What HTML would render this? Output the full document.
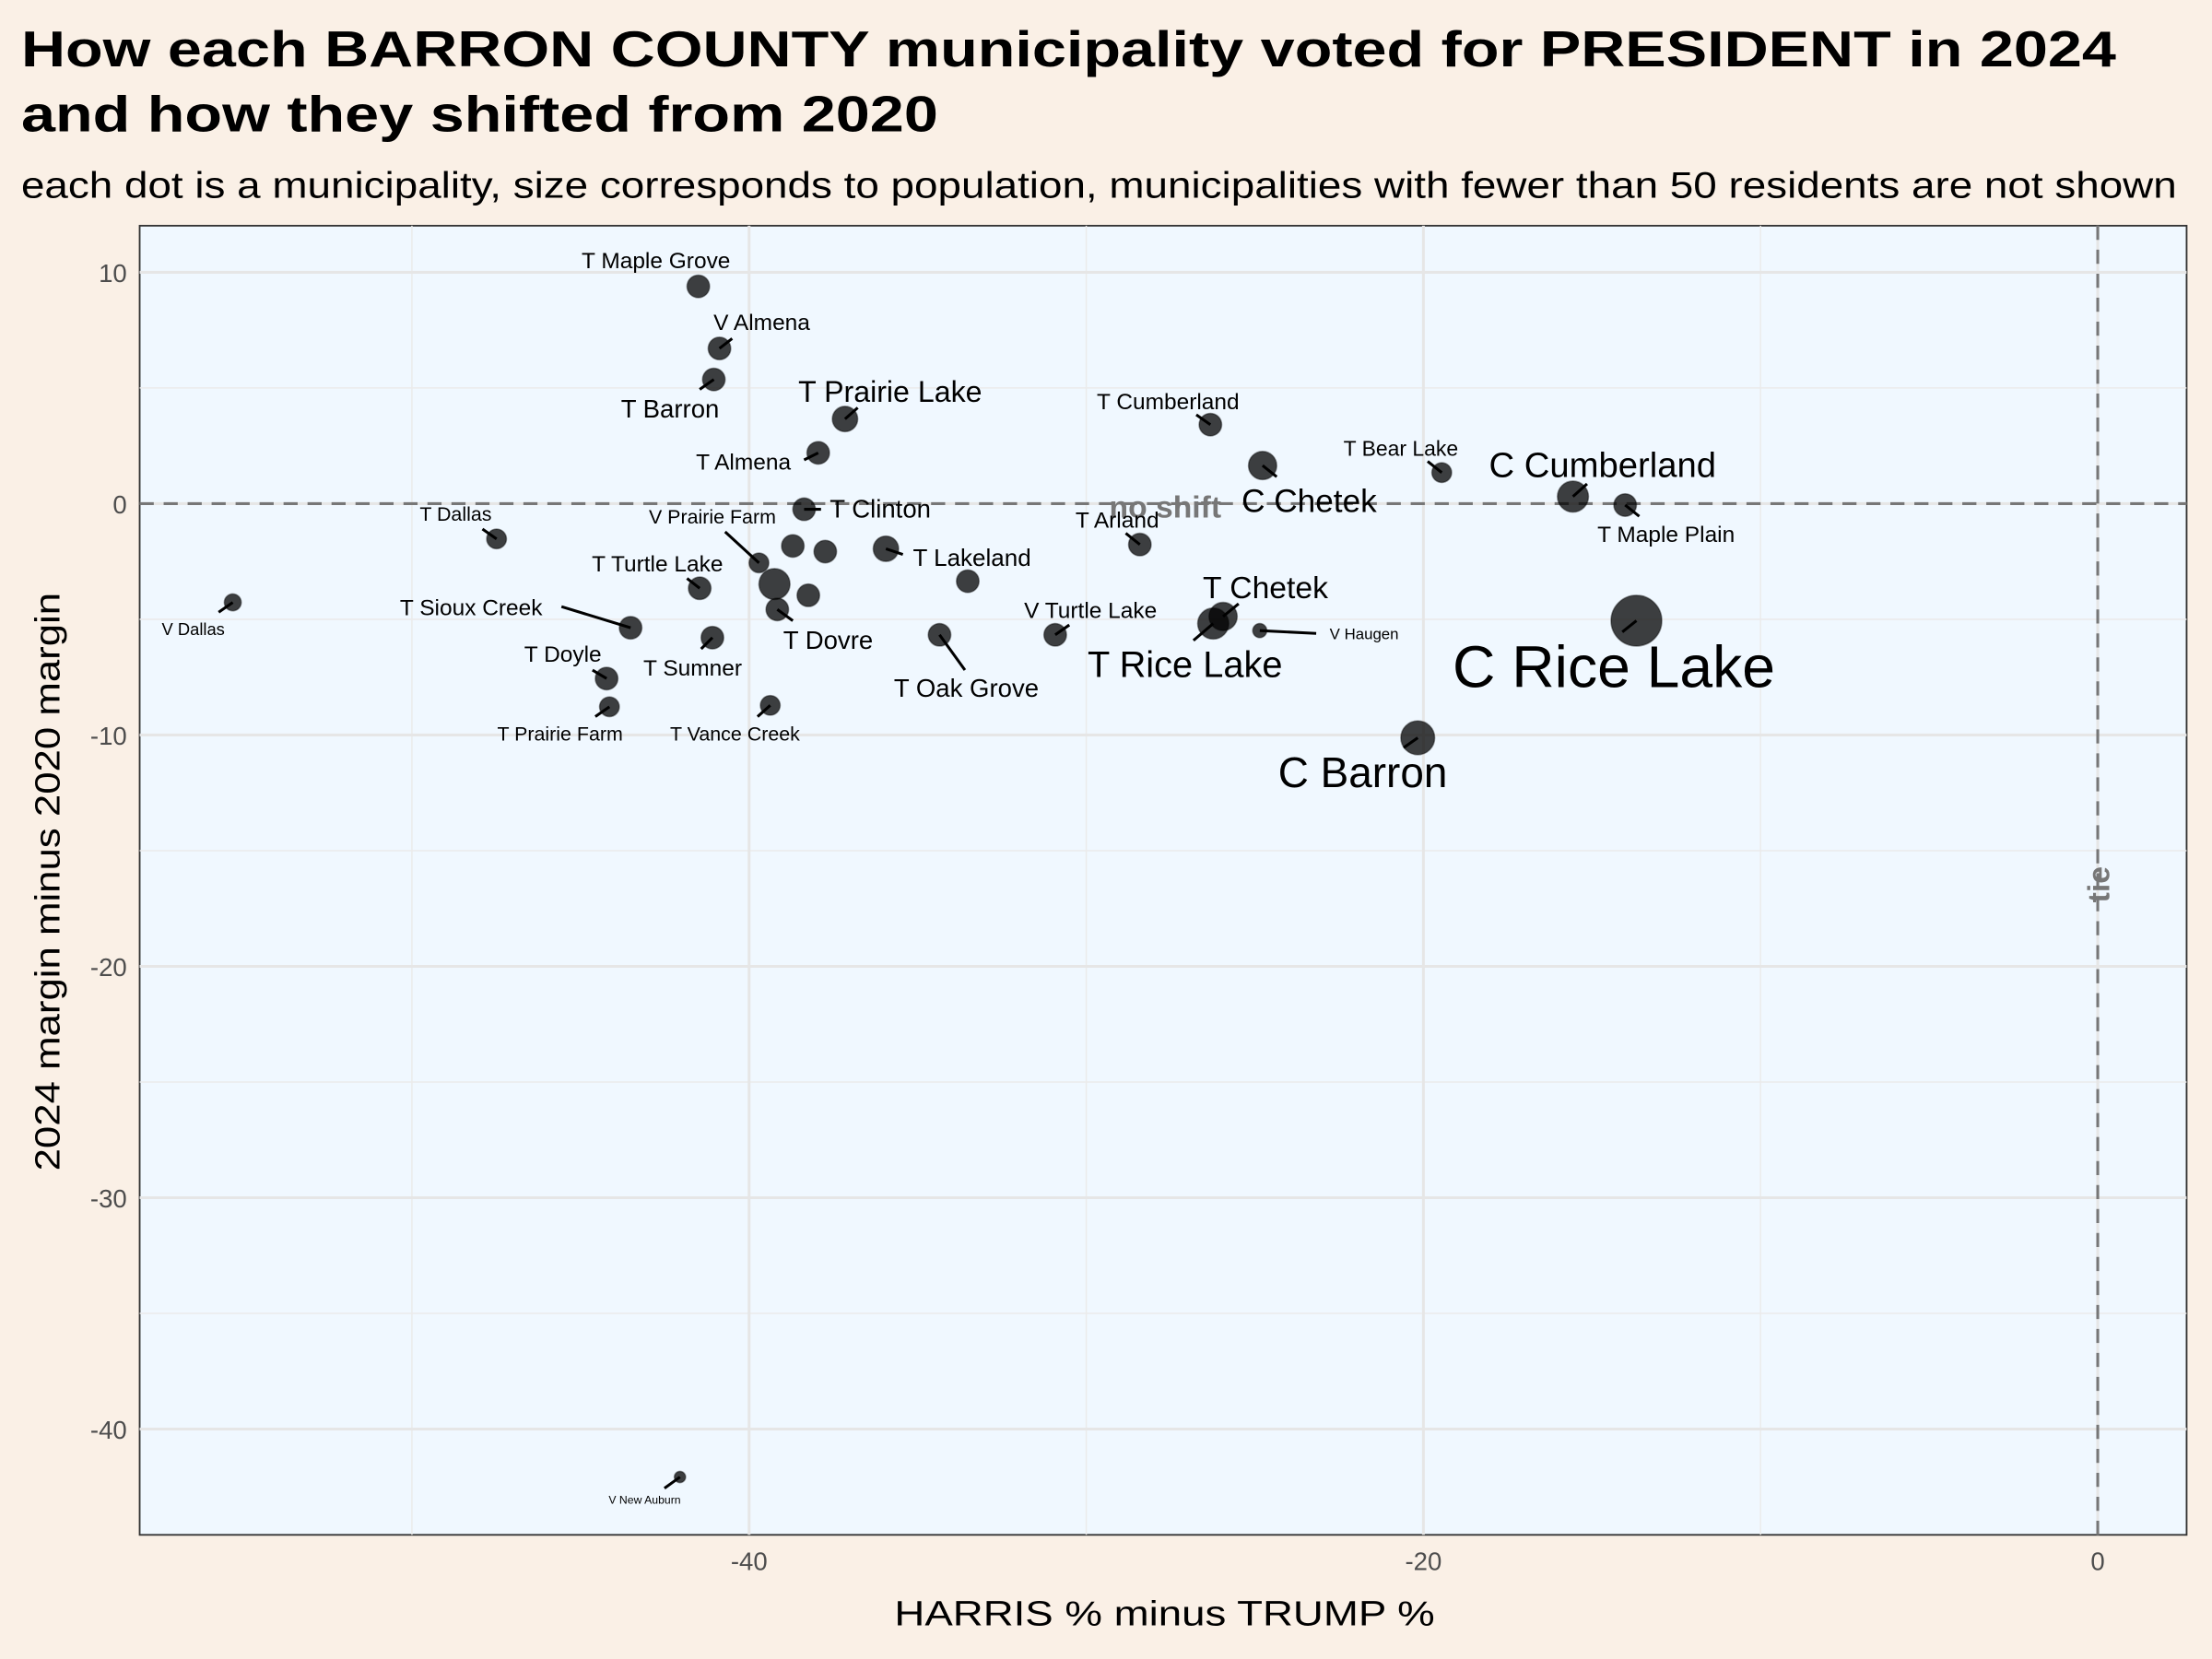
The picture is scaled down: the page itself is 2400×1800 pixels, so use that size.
<!DOCTYPE html>
<html><head><meta charset="utf-8"><style>
html,body{margin:0;padding:0;background:#faf0e6;}
svg{display:block;}
text{font-family:"Liberation Sans",sans-serif;}
</style></head><body>
<svg width="2400" height="1800" viewBox="0 0 1568 1176" xmlns="http://www.w3.org/2000/svg">
<rect width="1568" height="1176" fill="#faf0e6"/>
<text x="15" y="47" font-size="36" font-weight="bold" fill="#000" textLength="1485" lengthAdjust="spacingAndGlyphs">How each BARRON COUNTY municipality voted for PRESIDENT in 2024</text>
<text x="15" y="93" font-size="36" font-weight="bold" fill="#000" textLength="650" lengthAdjust="spacingAndGlyphs">and how they shifted from 2020</text>
<text x="15" y="140" font-size="26" fill="#000" textLength="1528" lengthAdjust="spacingAndGlyphs">each dot is a municipality, size corresponds to population, municipalities with fewer than 50 residents are not shown</text>
<rect x="99" y="160" width="1451" height="928" fill="#f0f8ff" stroke="#333" stroke-width="1.2"/>
<g stroke="#ebebeb" stroke-width="1">
<line x1="99" x2="1550" y1="275" y2="275"/><line x1="99" x2="1550" y1="439" y2="439"/><line x1="99" x2="1550" y1="603" y2="603"/><line x1="99" x2="1550" y1="767" y2="767"/><line x1="99" x2="1550" y1="931" y2="931"/>
<line y1="160" y2="1088" x1="292" x2="292"/><line y1="160" y2="1088" x1="770" x2="770"/><line y1="160" y2="1088" x1="1248" x2="1248"/>
</g>
<g stroke="#e6e6e6" stroke-width="2">
<line x1="99" x2="1550" y1="193" y2="193"/><line x1="99" x2="1550" y1="357" y2="357"/><line x1="99" x2="1550" y1="521" y2="521"/><line x1="99" x2="1550" y1="685" y2="685"/><line x1="99" x2="1550" y1="849" y2="849"/><line x1="99" x2="1550" y1="1013" y2="1013"/>
<line y1="160" y2="1088" x1="531" x2="531"/><line y1="160" y2="1088" x1="1009" x2="1009"/><line y1="160" y2="1088" x1="1487" x2="1487"/>
</g>
<line x1="99" x2="1550" y1="357" y2="357" stroke="#777" stroke-width="2" stroke-dasharray="10,7"/>
<line x1="1487" x2="1487" y1="160" y2="1088" stroke="#777" stroke-width="2" stroke-dasharray="10,7"/>
<text x="826" y="367" font-size="22" font-weight="bold" fill="#777" text-anchor="middle">no shift</text>
<text transform="translate(1495,627) rotate(-90)" font-size="22" font-weight="bold" fill="#777" text-anchor="middle">tie</text>
<g fill="#4d4d4d" font-size="18" text-anchor="end">
<text x="90" y="200">10</text><text x="90" y="364">0</text><text x="90" y="528">-10</text><text x="90" y="692">-20</text><text x="90" y="856">-30</text><text x="90" y="1020">-40</text>
</g>
<g fill="#4d4d4d" font-size="18" text-anchor="middle">
<text x="531" y="1113">-40</text><text x="1009" y="1113">-20</text><text x="1487" y="1113">0</text>
</g>
<text x="634" y="1152" font-size="25" textLength="383" lengthAdjust="spacingAndGlyphs">HARRIS % minus TRUMP %</text>
<text transform="translate(42,830) rotate(-90)" font-size="25" textLength="410" lengthAdjust="spacingAndGlyphs">2024 margin minus 2020 margin</text>
<g stroke="#000" stroke-width="2">
<line x1="510" y1="247" x2="519" y2="240"/><line x1="506" y1="269" x2="496" y2="276"/><line x1="599" y1="297" x2="608" y2="289"/><line x1="580" y1="321" x2="570" y2="326"/>
<line x1="352" y1="382" x2="342" y2="375"/><line x1="165" y1="427" x2="155" y2="434"/><line x1="538" y1="399" x2="514" y2="377"/>
<line x1="496" y1="417" x2="487" y2="410"/><line x1="447" y1="445" x2="398" y2="430"/><line x1="505" y1="452" x2="497" y2="460"/>
<line x1="666" y1="450" x2="684" y2="475"/><line x1="430" y1="481" x2="420" y2="475"/><line x1="432" y1="501" x2="422" y2="508"/><line x1="546" y1="500" x2="537" y2="508"/>
<line x1="748" y1="450" x2="758" y2="443"/><line x1="858" y1="301" x2="848" y2="294"/><line x1="808" y1="386" x2="798" y2="378"/><line x1="895" y1="330" x2="905" y2="338"/>
<line x1="867" y1="437" x2="878" y2="428"/><line x1="860" y1="442" x2="846" y2="454"/><line x1="893" y1="447" x2="933" y2="449"/><line x1="1022" y1="335" x2="1012" y2="327"/>
<line x1="1115" y1="352" x2="1125" y2="343"/><line x1="1152" y1="358" x2="1162" y2="366"/><line x1="1160" y1="440" x2="1150" y2="448"/><line x1="1005" y1="523" x2="995" y2="530"/>
<line x1="482" y1="1047" x2="471" y2="1055"/><line x1="551" y1="432" x2="562" y2="440"/><line x1="628" y1="389" x2="640" y2="393"/><line x1="570" y1="361" x2="582" y2="361"/>
</g>
<g fill="#000" fill-opacity="0.75" stroke="#000" stroke-opacity="0.4">
<circle cx="495" cy="203" r="8"/><circle cx="510" cy="247" r="8"/><circle cx="506" cy="269" r="8"/><circle cx="599" cy="297" r="9"/><circle cx="580" cy="321" r="8"/>
<circle cx="570" cy="361" r="8"/><circle cx="352" cy="382" r="7"/><circle cx="165" cy="427" r="6"/><circle cx="538" cy="399" r="7"/>
<circle cx="562" cy="387" r="8"/><circle cx="585" cy="391" r="8"/><circle cx="549" cy="414" r="11"/><circle cx="573" cy="422" r="8"/><circle cx="551" cy="432" r="8"/>
<circle cx="628" cy="389" r="9"/><circle cx="686" cy="412" r="8"/><circle cx="496" cy="417" r="8"/><circle cx="447" cy="445" r="8"/><circle cx="505" cy="452" r="8"/><circle cx="666" cy="450" r="8"/>
<circle cx="430" cy="481" r="8"/><circle cx="432" cy="501" r="7"/><circle cx="546" cy="500" r="7"/><circle cx="748" cy="450" r="8"/>
<circle cx="858" cy="301" r="8"/><circle cx="808" cy="386" r="8"/><circle cx="895" cy="330" r="10"/><circle cx="867" cy="437" r="10"/><circle cx="860" cy="442" r="11"/>
<circle cx="893" cy="447" r="5"/><circle cx="1022" cy="335" r="7"/><circle cx="1115" cy="352" r="11"/><circle cx="1152" cy="358" r="8"/>
<circle cx="1160" cy="440" r="18"/><circle cx="1005" cy="523" r="12"/><circle cx="482" cy="1047" r="4"/>
</g>
<g fill="#000">
<text x="465" y="190" font-size="16" text-anchor="middle">T Maple Grove</text>
<text x="540" y="234" font-size="16" text-anchor="middle">V Almena</text>
<text x="475" y="296" font-size="18" text-anchor="middle">T Barron</text>
<text x="631" y="285" font-size="21" text-anchor="middle">T Prairie Lake</text>
<text x="527" y="333" font-size="16" text-anchor="middle">T Almena</text>
<text x="624" y="367" font-size="18" text-anchor="middle">T Clinton</text>
<text x="323" y="369" font-size="14" text-anchor="middle">T Dallas</text>
<text x="137" y="450" font-size="12" text-anchor="middle">V Dallas</text>
<text x="505" y="371" font-size="14" text-anchor="middle">V Prairie Farm</text>
<text x="466" y="405" font-size="16" text-anchor="middle">T Turtle Lake</text>
<text x="334" y="436" font-size="16" text-anchor="middle">T Sioux Creek</text>
<text x="491" y="479" font-size="16" text-anchor="middle">T Sumner</text>
<text x="587" y="460" font-size="18" text-anchor="middle">T Dovre</text>
<text x="689" y="401" font-size="17" text-anchor="middle">T Lakeland</text>
<text x="685" y="494" font-size="18" text-anchor="middle">T Oak Grove</text>
<text x="399" y="469" font-size="16" text-anchor="middle">T Doyle</text>
<text x="397" y="525" font-size="14" text-anchor="middle">T Prairie Farm</text>
<text x="521" y="525" font-size="14" text-anchor="middle">T Vance Creek</text>
<text x="773" y="438" font-size="16" text-anchor="middle">V Turtle Lake</text>
<text x="828" y="290" font-size="16" text-anchor="middle">T Cumberland</text>
<text x="792" y="374" font-size="16" text-anchor="middle">T Arland</text>
<text x="928" y="363" font-size="23" text-anchor="middle">C Chetek</text>
<text x="897" y="424" font-size="22" text-anchor="middle">T Chetek</text>
<text x="840" y="480" font-size="26" text-anchor="middle">T Rice Lake</text>
<text x="967" y="453" font-size="11" text-anchor="middle">V Haugen</text>
<text x="993" y="323" font-size="15" text-anchor="middle">T Bear Lake</text>
<text x="1136" y="338" font-size="25" text-anchor="middle">C Cumberland</text>
<text x="1181" y="384" font-size="16" text-anchor="middle">T Maple Plain</text>
<text x="1144" y="487" font-size="42" text-anchor="middle">C Rice Lake</text>
<text x="966" y="558" font-size="30" text-anchor="middle">C Barron</text>
<text x="457" y="1066" font-size="8" text-anchor="middle">V New Auburn</text>
</g>
</svg>
</body></html>
